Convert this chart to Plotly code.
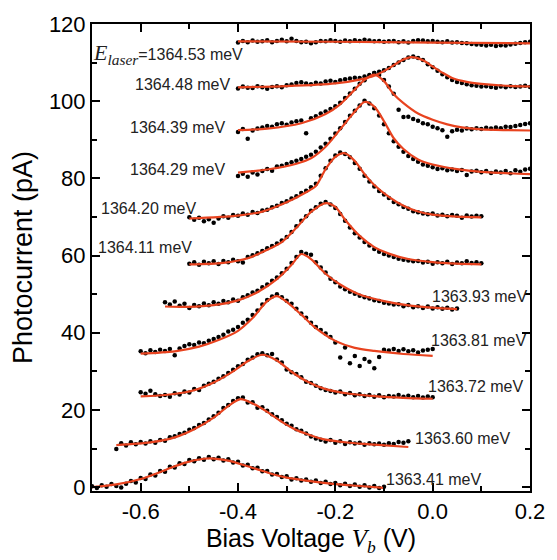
import numpy as np
import plotly.graph_objects as go

# ---------------- data ----------------
LABELS = ["1364.53", "1364.48", "1364.39", "1364.29", "1364.20", "1364.11",
          "1363.93", "1363.81", "1363.72", "1363.60", "1363.41"]
DOT_START = [-0.40, -0.40, -0.40, -0.40, -0.50, -0.50, -0.55, -0.60, -0.60, -0.65, -0.70]
DOT_STEP = 0.01

D1 = [115.2, 115.6, 115.3, 115.7, 115.4, 115.5, 115.8, 115.3, 115.6, 115.9, 115.5, 116.2, 115.6, 115.3, 115.4, 115.0,
      115.3, 115.6, 115.5, 115.8, 115.6, 115.4, 115.7, 115.5, 115.8, 115.6, 115.9, 115.7, 115.5, 115.6, 115.4, 115.5,
      115.6, 115.3, 115.5, 115.2, 115.6, 115.8, 115.7, 115.5, 115.6, 115.4, 115.3, 115.5, 115.2, 115.3, 115.1, 115.0,
      114.8, 114.7, 114.6, 114.4, 114.6, 114.3, 114.5, 114.4, 114.7, 114.9, 115.1, 115.3, 115.4]
D2 = [103.3, 103.8, 103.5, 103.4, 103.9, 103.6, 103.2, 103.7, 103.9, 103.6, 104.1, 104.3, 104.7, 104.9, 104.6, 104.4,
      104.8, 104.6, 105.1, 105.3, 105.0, 105.4, 105.7, 105.9, 106.1, 106.0, 106.4, 106.8, 107.3, 107.6, 108.0, 108.6,
      109.4, 110.0, 110.7, 111.3, 111.6, 111.2, 110.7, 109.6, 108.8, 107.9, 107.0, 106.2, 105.5, 105.0, 104.7, 104.4,
      104.1, 104.0, 103.8, 103.9, 103.7, 103.5, 103.8, 103.6, 103.9, 103.7, 103.8, 104.0, 103.7]
D3 = [92.0, 92.8, 90.3, 92.4, 92.9, 93.2, 93.6, 93.4, 94.0, 94.3, 93.9, 94.5, 94.8, 95.0, 91.7, 95.6,
      96.1, 96.8, 97.3, 98.0, 98.7, 99.6, 100.8, 102.0, 103.2, 104.5, 105.4, 106.6, 107.3, 106.8, 105.5, 103.8,
      101.9, 97.8, 95.9, 96.0, 95.4, 94.9, 94.3, 94.0, 93.4, 93.0, 92.5, 90.8, 92.2, 92.6, 92.4, 92.9,
      92.7, 93.0, 92.8, 93.1, 92.9, 93.2, 93.0, 93.4, 93.3, 93.6, 93.8, 94.1, 94.3]
D4 = [80.6, 81.2, 80.4, 81.5, 81.0, 81.9, 82.4, 82.0, 83.1, 83.3, 83.7, 84.2, 84.6, 85.0, 85.6, 86.1,
      86.9, 88.0, 89.0, 90.3, 91.6, 93.0, 94.6, 96.2, 97.5, 98.9, 100.1, 99.4, 98.2, 96.3, 94.0, 91.7,
      89.6, 88.2, 86.9, 85.8, 85.0, 84.3, 83.6, 83.3, 82.9, 82.4, 82.6, 82.1, 82.3, 81.9, 82.2, 80.9,
      81.8, 82.0, 81.6, 81.9, 81.4, 81.8, 81.5, 81.9, 81.3, 82.1, 81.7, 82.3, 82.5]
D5 = [69.9, 69.3, 69.8, 68.9, 69.4, 68.5, 69.6, 70.2, 69.8, 70.5, 70.3, 70.9, 70.6, 71.3, 71.0, 71.7,
      71.9, 72.5, 72.9, 73.6, 74.1, 74.8, 75.4, 76.2, 76.8, 77.7, 78.6, 80.7, 82.6, 84.6, 85.9, 86.7,
      86.3, 85.5, 84.0, 82.5, 80.7, 79.2, 77.9, 76.7, 75.8, 74.9, 73.9, 73.3, 72.6, 72.1, 71.5, 71.2,
      70.9, 70.7, 70.9, 70.4, 70.6, 70.2, 70.5, 70.3, 69.8, 70.4, 70.1, 70.3, 70.2]
D6 = [57.9, 58.3, 57.6, 58.4, 58.0, 58.5, 57.8, 58.6, 58.3, 58.9, 58.5, 58.2, 59.6, 60.1, 60.6, 61.2,
      61.9, 62.5, 63.1, 63.9, 64.8, 66.1, 67.6, 69.0, 70.2, 71.6, 72.5, 73.4, 73.9, 73.2, 72.3, 70.8,
      69.0, 67.3, 65.8, 64.7, 63.5, 62.6, 61.7, 61.0, 60.4, 60.0, 59.6, 59.2, 58.9, 58.7, 58.5, 58.6,
      58.2, 58.4, 57.9, 58.3, 58.0, 58.4, 57.8, 58.2, 58.0, 58.5, 58.1, 58.3, 58.0]
D7 = [47.9, 47.3, 48.1, 47.0, 47.5, 46.4, 47.2, 46.9, 47.6, 47.1, 47.9, 47.5, 48.2, 47.9, 48.6, 48.3,
      49.2, 49.7, 50.4, 50.9, 51.8, 52.5, 53.5, 54.3, 55.4, 56.6, 58.1, 59.6, 60.9, 60.5, 60.2, 58.3,
      56.9, 55.6, 54.0, 53.1, 52.0, 51.3, 50.6, 50.1, 49.6, 49.2, 48.9, 48.4, 48.2, 47.8, 47.6, 47.3,
      47.4, 46.9, 47.2, 46.6, 46.9, 46.4, 46.8, 46.3, 46.6, 46.2, 46.5, 46.0, 46.3]
D8 = [35.2, 34.7, 35.5, 35.0, 35.6, 35.3, 35.8, 34.2, 35.9, 36.6, 37.0, 36.8, 37.5, 37.3, 37.9, 38.4,
      38.9, 39.5, 40.3, 40.8, 41.5, 42.6, 43.4, 44.6, 45.8, 47.3, 48.5, 49.4, 50.0, 49.2, 48.3, 47.5,
      46.2, 45.0, 43.9, 42.6, 41.5, 40.7, 39.8, 38.9, 37.5, 33.6, 36.2, 32.1, 34.0, 31.4, 33.2, 32.5,
      30.8, 33.7, 35.6, 35.4, 35.8, 35.3, 35.7, 35.2, 35.5, 34.9, 35.4, 35.6, 35.8]
D9 = [24.6, 24.2, 25.0, 24.1, 23.6, 23.9, 23.4, 24.3, 24.0, 24.8, 24.5, 25.4, 25.2, 26.3, 26.8, 27.3,
      28.1, 28.7, 29.6, 30.4, 31.3, 31.9, 33.0, 33.6, 34.4, 34.7, 34.2, 34.5, 33.1, 32.3, 30.5, 29.8,
      29.3, 28.5, 27.3, 27.0, 26.3, 25.6, 25.2, 24.9, 24.5, 24.8, 24.1, 24.4, 23.8, 24.1, 23.6, 23.9,
      23.4, 23.8, 23.3, 23.6, 23.5, 23.9, 23.4, 23.7, 23.3, 23.6, 23.2, 23.5, 23.3]
D10 = [9.9, 11.4, 10.8, 11.6, 11.1, 11.7, 11.3, 11.9, 11.5, 12.2, 12.0, 12.9, 13.2, 13.8, 14.1, 14.9,
       15.3, 16.1, 16.6, 17.5, 18.4, 19.3, 20.5, 21.3, 22.3, 23.0, 23.2, 21.9, 22.0, 20.6, 20.7, 19.8,
       18.9, 18.2, 17.3, 16.4, 15.9, 15.0, 14.6, 13.9, 13.1, 12.6, 12.3, 11.8, 12.2, 11.5, 11.9, 11.2,
       11.6, 11.3, 11.5, 11.0, 11.4, 11.1, 11.3, 11.0, 11.4, 11.2, 11.7, 11.5, 11.9]
D11 = [0.2, -0.2, 0.5, 0.1, 0.8, 0.3, -0.1, 0.9, 1.6, 1.2, 2.4, 2.1, 3.3, 3.0, 4.2, 4.0,
       5.3, 5.1, 6.2, 6.0, 7.0, 6.7, 7.5, 7.1, 7.8, 7.2, 7.6, 6.9, 7.2, 6.4, 6.6, 5.6,
       5.8, 4.9, 5.0, 4.1, 4.2, 3.3, 3.4, 2.6, 2.8, 2.0, 2.3, 1.7, 2.0, 1.4, 1.7, 1.1,
       1.4, 0.8, 1.1, 0.5, 0.9, 0.3, 0.7, 0.1, 0.5, -0.1, 0.3, -0.2, 0.1]

# fitted curves (key points)
F1X = [-0.40, -0.20, 0.00, 0.20]
F1Y = [115.5, 115.4, 115.2, 115.0]
F2X = [-0.40, -0.30, -0.20, -0.15, -0.12, -0.09, -0.065, -0.044, -0.02, 0.00, 0.02, 0.04, 0.07, 0.10, 0.15, 0.20]
F2Y = [103.6, 103.9, 104.6, 105.6, 106.6, 108.5, 110.5, 111.4, 110.6, 109.0, 107.4, 106.0, 105.0, 104.5, 104.0, 103.8]
F3X = [-0.40, -0.34, -0.27, -0.22, -0.19, -0.16, -0.14, -0.12, -0.10, -0.08, -0.06, -0.03, 0.00, 0.03, 0.06, 0.10, 0.15, 0.20]
F3Y = [92.5, 92.9, 94.3, 96.7, 99.2, 103.0, 105.5, 106.9, 105.2, 101.8, 99.5, 96.8, 95.2, 94.0, 93.2, 92.7, 92.5, 92.4]
F4X = [-0.40, -0.34, -0.28, -0.25, -0.22, -0.19, -0.16, -0.14, -0.12, -0.10, -0.08, -0.06, -0.03, 0.00, 0.05, 0.10, 0.20]
F4Y = [81.5, 82.3, 83.8, 85.2, 88.2, 92.7, 97.3, 99.8, 98.6, 94.8, 90.4, 87.6, 84.9, 83.6, 82.4, 81.7, 81.1]
F5X = [-0.50, -0.40, -0.35, -0.30, -0.26, -0.24, -0.22, -0.20, -0.18, -0.16, -0.14, -0.12, -0.09, -0.06, -0.03, 0.00, 0.05, 0.10]
F5Y = [69.6, 70.35, 71.4, 73.8, 76.4, 78.0, 82.4, 85.6, 86.5, 84.5, 81.1, 78.3, 75.2, 72.9, 71.4, 70.6, 70.1, 69.9]
F6X = [-0.50, -0.43, -0.38, -0.34, -0.31, -0.28, -0.25, -0.22, -0.20, -0.18, -0.15, -0.12, -0.09, -0.05, 0.00, 0.05, 0.10]
F6Y = [57.7, 58.1, 59.3, 61.5, 63.5, 67.2, 71.3, 73.6, 72.6, 69.3, 65.1, 62.2, 60.5, 59.1, 58.3, 57.9, 57.7]
F7X = [-0.55, -0.50, -0.45, -0.40, -0.36, -0.32, -0.29, -0.27, -0.25, -0.22, -0.19, -0.15, -0.10, -0.05, 0.00, 0.05]
F7Y = [46.8, 46.7, 47.15, 48.4, 50.5, 53.9, 57.6, 60.4, 59.1, 55.3, 52.5, 49.9, 48.2, 47.1, 46.5, 46.1]
F8X = [-0.60, -0.53, -0.48, -0.44, -0.40, -0.37, -0.34, -0.32, -0.30, -0.27, -0.24, -0.20, -0.16, -0.12, -0.06, 0.00]
F8Y = [34.6, 35.2, 36.4, 38.1, 40.5, 43.8, 48.2, 49.5, 48.0, 44.7, 41.2, 37.9, 36.1, 35.3, 34.5, 34.0]
F9X = [-0.60, -0.54, -0.49, -0.45, -0.41, -0.38, -0.35, -0.32, -0.29, -0.26, -0.22, -0.17, -0.12, -0.06, 0.00]
F9Y = [23.5, 24.0, 25.1, 27.1, 30.0, 32.6, 34.3, 32.8, 29.9, 27.5, 25.4, 24.2, 23.6, 23.15, 22.9]
F10X = [-0.65, -0.58, -0.53, -0.49, -0.45, -0.42, -0.395, -0.37, -0.34, -0.31, -0.28, -0.25, -0.22, -0.17, -0.12, -0.05]
F10Y = [10.9, 11.6, 12.9, 15.0, 18.0, 21.0, 22.8, 21.7, 19.5, 16.9, 14.8, 13.4, 12.3, 11.5, 11.0, 10.4]
F11X = [-0.70, -0.65, -0.60, -0.55, -0.51, -0.47, -0.45, -0.42, -0.39, -0.36, -0.33, -0.30, -0.26, -0.20, -0.15, -0.10]
F11Y = [0.0, 0.7, 2.1, 4.4, 6.3, 7.35, 7.4, 6.85, 5.8, 4.6, 3.4, 2.45, 1.7, 0.8, 0.3, -0.2]

# label anchor positions (data coords) and side
LABEL_X = [-0.385, -0.41, -0.42, -0.42, -0.48, -0.49, -0.005, -0.008, -0.014, -0.041, -0.10]
LABEL_Y = [112.2, 104.3, 93.2, 82.2, 72.3, 62.0, 49.4, 38.0, 26.1, 12.7, 2.1]
LABEL_SIDE = ["right"] * 6 + ["left"] * 5

X_TICKS = [-0.6, -0.4, -0.2, 0.0, 0.2]
X_TICKTEXT = ["-0.6", "-0.4", "-0.2", "0.0", "0.2"]
Y_TICKS = [0, 20, 40, 60, 80, 100, 120]

DOTS = [D1, D2, D3, D4, D5, D6, D7, D8, D9, D10, D11]
FITS = [(F1X, F1Y), (F2X, F2Y), (F3X, F3Y), (F4X, F4Y), (F5X, F5Y), (F6X, F6Y),
        (F7X, F7Y), (F8X, F8Y), (F9X, F9Y), (F10X, F10Y), (F11X, F11Y)]

RED = "#E8431F"
SANS = "Liberation Sans, Arial, sans-serif"
SERIF = "Liberation Serif"

fig = go.Figure()
for i, ys in enumerate(DOTS):
    xs = np.round(DOT_START[i] + DOT_STEP * np.arange(len(ys)), 3)
    fig.add_trace(go.Scatter(x=xs, y=ys, mode="markers",
                             marker=dict(color="black", size=4.5),
                             showlegend=False, hoverinfo="skip"))
for fx, fy in FITS:
    fig.add_trace(go.Scatter(x=fx, y=fy, mode="lines",
                             line=dict(color=RED, width=2.2, shape="spline", smoothing=0.8),
                             showlegend=False, hoverinfo="skip"))

for i, lab in enumerate(LABELS):
    if i == 0:
        txt = (f"<span style='font-family:{SERIF};font-size:22px'><i>E</i>"
               f"<sub><i>laser</i></sub></span>={lab} meV")
    else:
        txt = f"{lab} meV"
    fig.add_annotation(x=LABEL_X[i], y=LABEL_Y[i], text=txt, showarrow=False,
                       xanchor=LABEL_SIDE[i], yanchor="middle",
                       font=dict(family=SANS, size=16, color="#222"))

axis_common = dict(showline=True, linecolor="black", linewidth=2, mirror="allticks",
                   ticks="inside", ticklen=8, tickwidth=2, tickcolor="black",
                   showgrid=False, zeroline=False,
                   tickfont=dict(family=SANS, size=22, color="black"))

fig.update_xaxes(range=[-0.7, 0.2], tickmode="array", tickvals=X_TICKS, ticktext=X_TICKTEXT,
                 minor=dict(tickmode="array", tickvals=[-0.5, -0.3, -0.1, 0.1],
                            ticks="inside", ticklen=5, tickwidth=2, tickcolor="black"),
                 title=dict(text=f"Bias Voltage <span style='font-family:{SERIF}'><i>V</i><sub><i>b</i></sub></span> (V)",
                            font=dict(family=SANS, size=25, color="black"), standoff=6),
                 **axis_common)
fig.update_yaxes(range=[-1, 120], tickmode="array", tickvals=Y_TICKS,
                 minor=dict(tickmode="array", tickvals=[10, 30, 50, 70, 90, 110],
                            ticks="inside", ticklen=5, tickwidth=2, tickcolor="black"),
                 title=dict(text="Photocurrent (pA)", font=dict(family=SANS, size=27, color="black"),
                            standoff=8),
                 **axis_common)

fig.update_layout(width=557, height=560, margin=dict(l=92, r=19, t=16, b=69),
                  plot_bgcolor="white", paper_bgcolor="white")

fig.write_html("out.html")
